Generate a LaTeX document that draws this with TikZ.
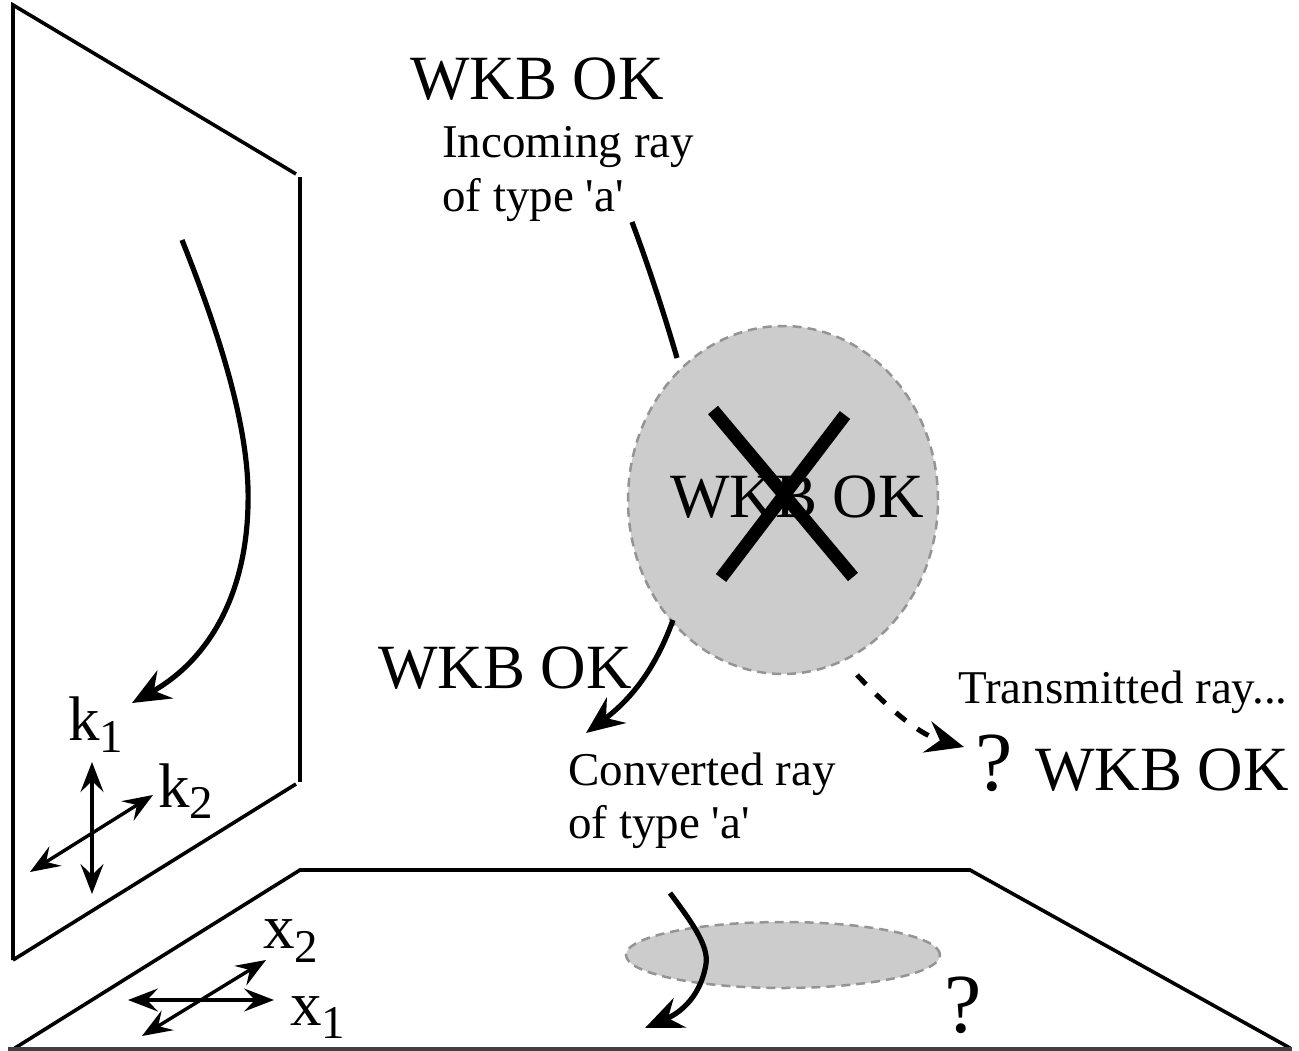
\documentclass[tikz,border=0pt]{standalone}
\usepackage{fontspec}
\setmainfont{Liberation Serif}[Ligatures=TeXOff]
\usetikzlibrary{arrows.meta,shapes.geometric}
\begin{document}
\begin{tikzpicture}[x=1pt,y=-1pt,
  wall/.style={line width=3.6pt},
  ray/.style={line width=5.2pt},
  tipA/.style={-{Stealth[length=38pt,width=32pt,inset=13pt]}},
  dbl/.style={line width=3.4pt,{Stealth[length=30pt,width=23pt,inset=11pt]}-{Stealth[length=30pt,width=23pt,inset=11pt]}},
  big/.style={font=\fontsize{63}{70}\selectfont, inner sep=0pt, anchor=base west},
  mid/.style={font=\fontsize{47}{54}\selectfont, inner sep=0pt, anchor=base west},
  qm/.style={font=\fontsize{84}{88}\selectfont, inner sep=0pt, anchor=base west},
  region/.style={ellipse, inner sep=0pt, fill=black!20, draw=black!42, line width=2.5pt, dash pattern=on 9pt off 6pt}]
\useasboundingbox (0,0) rectangle (1299,1051);
\fill[white] (0,0) rectangle (1299,1051);
% wall
\coordinate (wTL) at (13,5);
\coordinate (wBL) at (13,960);
\coordinate (wTR) at (296,174);
\coordinate (wRT) at (300,177);
\coordinate (wRB) at (300,782);
\coordinate (wBR) at (296,784);
\draw[wall] (wBL) -- (wTL) -- (wTR);
\draw[wall] (wRT) -- (wRB);
\draw[wall] (wBR) -- (wBL);
% floor
\coordinate (fFL) at (15,1048);
\coordinate (fBL) at (300,870);
\coordinate (fBR) at (970,870);
\coordinate (fFR) at (1290,1048);
\draw[wall] (fFL) -- (fBL) -- (fBR) -- (fFR);
\draw[wall, black!75] (8,1049) -- (1292,1049);
% regions
\node[region, minimum width=310pt, minimum height=348pt] (blob) at (783,500) {};
\node[region, minimum width=314pt, minimum height=66pt] (fblob) at (783,955) {};
% cross
\draw[line width=13pt] (713,410) -- (853,577);
\draw[line width=13pt] (845,415) -- (721,578);
\node[big] (wkbin) at (670,517) {WKB OK};
% rays
\coordinate (inS) at (632,222);
\coordinate (inE) at (677,358);
\draw[ray] (inS) .. controls (650,270) and (666,320) .. (inE);
\coordinate (cvS) at (673,620);
\coordinate (cvE) at (586,733);
\draw[ray, tipA] (cvS) .. controls (655,670) and (630,700) .. (cvE);
\coordinate (trS) at (857,675);
\coordinate (trE) at (964,747);
\draw[line width=5pt, dash pattern=on 13pt off 14pt, tipA] (trS) .. controls (890,710) and (920,735) .. (trE);
% wall curve
\coordinate (kS) at (182,240);
\coordinate (kM) at (248,505);
\coordinate (kE) at (132,703);
\draw[ray, tipA] (kS) .. controls (228,355) and (250,440) .. (kM) .. controls (246,600) and (205,662) .. (kE);
% floor curve
\coordinate (fS) at (670,893);
\coordinate (fM) at (706,964);
\coordinate (fE) at (645,1028);
\draw[ray, tipA] (fS) .. controls (690,920) and (709,945) .. (fM) .. controls (701,995) and (682,1012) .. (fE);
% k axes
\coordinate (kv1) at (92,762);
\coordinate (kv2) at (92,894);
\coordinate (kd1) at (30,872);
\coordinate (kd2) at (153,795);
\draw[dbl] (kv1) -- (kv2);
\draw[dbl] (kd1) -- (kd2);
\node[big] (k1) at (68,740) {k\raisebox{-12pt}{\fontsize{47}{50}\selectfont 1}};
\node[big] (k2) at (158,807) {k\raisebox{-11pt}{\fontsize{47}{50}\selectfont 2}};
% x axes
\coordinate (xh1) at (128,1000);
\coordinate (xh2) at (274,1000);
\coordinate (xd1) at (142,1036);
\coordinate (xd2) at (266,960);
\draw[dbl] (xh1) -- (xh2);
\draw[dbl] (xd1) -- (xd2);
\node[big] (x2) at (263,948) {x\raisebox{-14pt}{\fontsize{47}{50}\selectfont 2}};
\node[big] (x1) at (290,1025) {x\raisebox{-13pt}[\height][0pt]{\fontsize{47}{50}\selectfont 1}};
% texts
\node[big] (wkbtop) at (410,100) {WKB OK};
\node[mid] (inc1) at (442,158) {Incoming ray};
\node[mid] (inc2) at (442,212) {of type 'a'};
\node[big] (wkbconv) at (378,688) {WKB OK};
\node[mid] (conv1) at (568,785) {Converted ray};
\node[mid] (conv2) at (568,838) {of type 'a'};
\node[mid] (trans) at (958,703) {Transmitted ray...};
\node[qm] (q1) at (975,790) {?};
\node[big] (wkbtr) at (1035,790) {WKB OK};
\node[qm] (q2) at (944,1032) {\raisebox{0pt}[\height][0pt]{?}};
\end{tikzpicture}
\end{document}
